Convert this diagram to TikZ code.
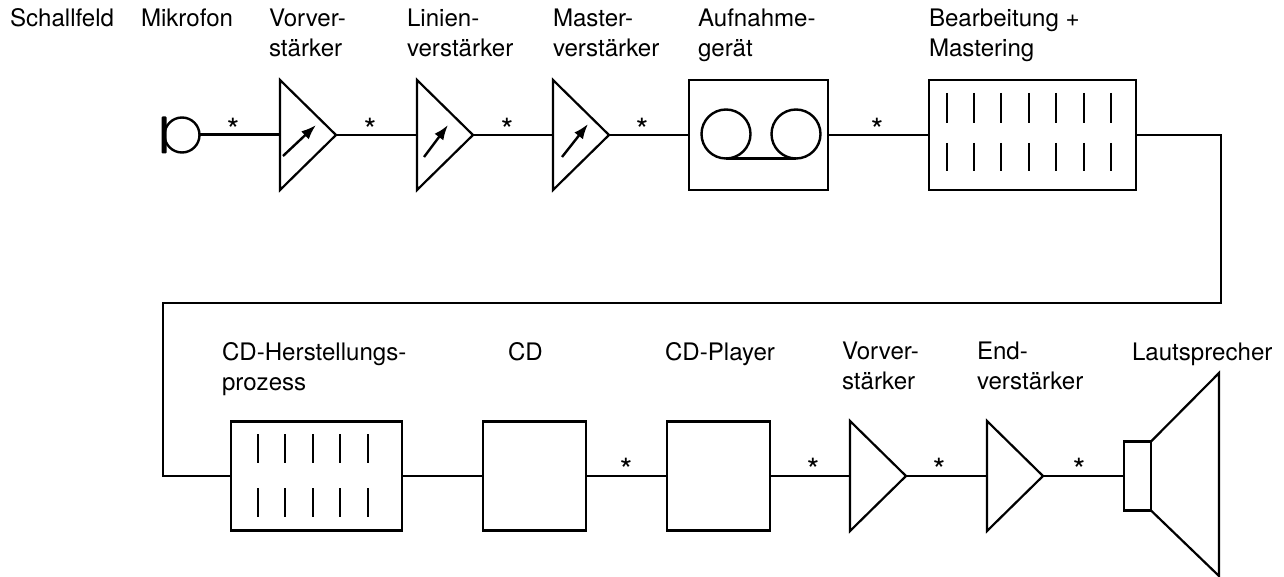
\documentclass[tikz,border=0pt]{standalone}
\usepackage{fontspec}
\setmainfont{TeX Gyre Heros}
\usetikzlibrary{shapes.geometric, arrows.meta}

\begin{document}
\begin{tikzpicture}[x=1pt, y=-1pt,
    every node/.style={inner sep=0pt, outer sep=0pt},
    leitung/.style={line width=2.2pt},
    duenn/.style={line width=1.5pt},
    kasten/.style={draw, rectangle, line width=2.2pt},
    verst/.style={draw, isosceles triangle, isosceles triangle stretches, line width=2.2pt,
        minimum width=110pt, minimum height=56pt, anchor=lower side},
    regler/.style={-{Latex[length=15pt, width=11pt]}, line width=2.4pt},
    strich/.style={line width=2pt},
    beschr/.style={anchor=base west, align=left, font=\fontsize{24.1}{30}\selectfont},
    stern/.style={anchor=north, font=\fontsize{32}{32}\selectfont}
]
\useasboundingbox (0,0) rectangle (1284,577);

% obere Reihe
\node[draw, circle, line width=2.4pt, minimum size=35pt] (mic) at (182,135) {};
\node[fill, rectangle, rounded corners=1pt, minimum width=5pt, minimum height=37pt] (micbar) at (164,135) {};
\node[verst] (vv1) at (280,135) {};
\node[verst] (lv) at (417,135) {};
\node[verst] (mv) at (553,135) {};
\node[kasten, minimum width=139pt, minimum height=110pt] (rec) at (758.5,135) {};
\node[kasten, minimum width=207pt, minimum height=110pt] (bearb) at (1032.5,135) {};
\node[draw, circle, line width=2.4pt, minimum size=49pt] (spuleL) at (726,134) {};
\node[draw, circle, line width=2.4pt, minimum size=49pt] (spuleR) at (796,134) {};

% untere Reihe
\node[kasten, minimum width=171pt, minimum height=109pt] (cdh) at (316.5,476) {};
\node[kasten, minimum width=103pt, minimum height=109pt] (cd) at (534.5,476) {};
\node[kasten, minimum width=103pt, minimum height=109pt] (player) at (718.5,476) {};
\node[verst] (vv2) at (850,476) {};
\node[verst] (ev) at (987,476) {};
\node[kasten, minimum width=27pt, minimum height=69pt] (lsbox) at (1137.5,476) {};
\coordinate (coneO) at (1219,373);
\coordinate (coneU) at (1219,576);
\coordinate (eckeA) at (1221,135);
\coordinate (eckeB) at (1221,303);
\coordinate (eckeC) at (163,303);
\coordinate (eckeD) at (163,476);

% Leitungen
\draw[line width=3pt] (mic.east) -- (vv1.lower side);
\draw[duenn] (vv1.apex) -- (lv.lower side);
\draw[duenn] (lv.apex) -- (mv.lower side);
\draw[duenn] (mv.apex) -- (rec.west);
\draw[leitung] (rec.east) -- (bearb.west);
\draw[leitung] (bearb.east) -- (eckeA) -- (eckeB) -- (eckeC) -- (eckeD) -- (cdh.west);
\draw[leitung] (cdh.east) -- (cd.west);
\draw[leitung] (cd.east) -- (player.west);
\draw[leitung] (player.east) -- (vv2.lower side);
\draw[leitung] (vv2.apex) -- (ev.lower side);
\draw[leitung] (ev.apex) -- (lsbox.west);
\draw[leitung, line join=miter] (lsbox.north east) -- (coneO) -- (coneU) -- (lsbox.south east);
\draw[line width=2.5pt] (spuleL.south) -- (spuleR.south);

% Regler
\coordinate (r1a) at (283,156); \coordinate (r1b) at (316,125);
\coordinate (r2a) at (424,157); \coordinate (r2b) at (448,125);
\coordinate (r3a) at (562,157); \coordinate (r3b) at (588,124);
\foreach \i in {1,2,3}
    \draw[regler] (r\i a) -- (r\i b);

% Striche
\foreach \i in {0,...,6} {
    \draw[strich] (946.5+27.4*\i,93) -- (946.5+27.4*\i,123);
    \draw[strich] (946.5+27.4*\i,143) -- (946.5+27.4*\i,171);
}
\foreach \i in {0,...,4} {
    \draw[strich] (258+27.4*\i,434) -- (258+27.4*\i,463);
    \draw[strich] (258+27.4*\i,488) -- (258+27.4*\i,517);
}

% Sterne
\foreach \x [count=\i] in {233,370,507,642,877}
    \node[stern] (sto\i) at (\x,118) {*};
\foreach \x [count=\i] in {626,813,939,1079}
    \node[stern] (stu\i) at (\x,458) {*};

% Beschriftung
\node[beschr] (schall) at (10,27) {Schallfeld};
\node[beschr] (mikro) at (141,27) {Mikrofon};
\node[beschr] (tvv1) at (269,57) {Vorver-\\stärker};
\node[beschr] (tlv) at (407,57) {Linien-\\verstärker};
\node[beschr] (tmv) at (553,57) {Master-\\verstärker};
\node[beschr] (tauf) at (698,57) {Aufnahme-\\gerät};
\node[beschr] (tbearb) at (929,57) {Bearbeitung +\\Mastering};
\node[beschr] (tcdh) at (222,390) {CD-Herstellungs-\\prozess};
\node[beschr] (tcd) at (508,360) {CD};
\node[beschr] (tplayer) at (665,360) {CD-Player};
\node[beschr] (tvv2) at (842,389) {Vorver-\\stärker};
\node[beschr] (tev) at (977,389) {End-\\verstärker};
\node[beschr] (tls) at (1132,360) {Lautsprecher};
\end{tikzpicture}
\end{document}
